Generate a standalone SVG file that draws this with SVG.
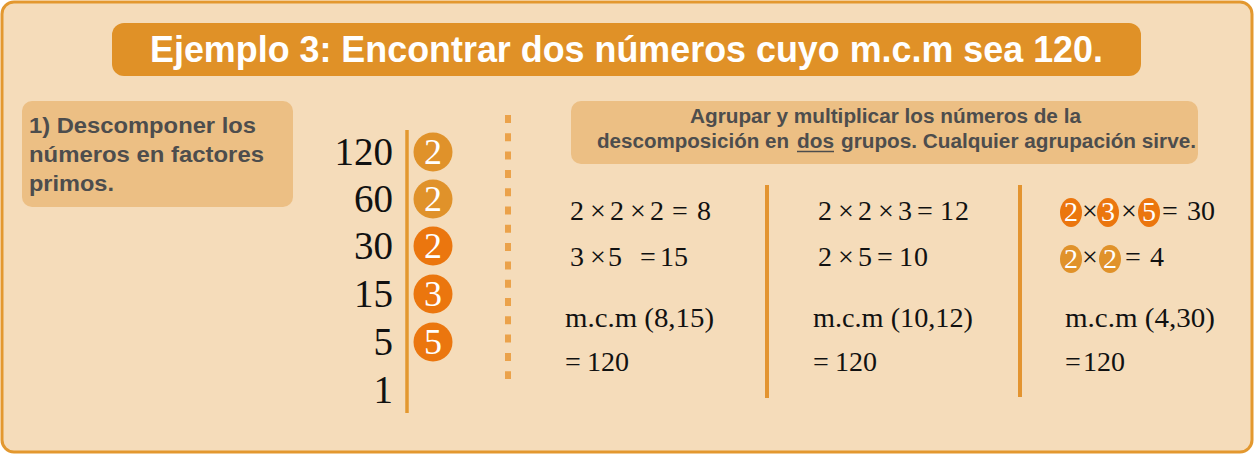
<svg xmlns="http://www.w3.org/2000/svg" width="1254" height="455" viewBox="0 0 1254 455">
<style>
.hd{font-family:"Liberation Sans",Arial,sans-serif;font-weight:bold;fill:#4D4D4D}
.m{font-family:"Liberation Serif","Times New Roman",serif;fill:#111}
.w{font-family:"Liberation Serif","Times New Roman",serif;fill:#fff;text-anchor:middle}
.sep{stroke:#E39430;stroke-width:4}
.c1{fill:#E0922A}
.c2{fill:#EB760E}
</style>
<g id="frame">
<rect x="2" y="2" width="1250" height="450" rx="12" fill="#F5DCBA" stroke="#E3982F" stroke-width="3"/>
</g>
<g id="title">
<rect x="112" y="23" width="1029" height="53" rx="12" fill="#E09127"/>
<text x="150" y="62" font-family="Liberation Sans,Arial,sans-serif" font-weight="bold" font-size="36" fill="#fff" textLength="953" lengthAdjust="spacingAndGlyphs">Ejemplo 3: Encontrar dos números cuyo m.c.m sea 120.</text>
</g>
<g id="step1">
<rect x="22" y="101" width="271" height="106" rx="10" fill="#ECBF84"/>
<text class="hd" font-size="22" x="29" y="133" textLength="227" lengthAdjust="spacingAndGlyphs">1) Descomponer los</text>
<text class="hd" font-size="22" x="29" y="162" textLength="235" lengthAdjust="spacingAndGlyphs">números en factores</text>
<text class="hd" font-size="22" x="29" y="191" textLength="85" lengthAdjust="spacingAndGlyphs">primos.</text>
</g>
<g id="factorization">
<line x1="407" y1="130" x2="407" y2="413" stroke="#E3982F" stroke-width="3.5"/>
<g class="m" font-size="39" text-anchor="end">
<text x="393" y="165">120</text>
<text x="393" y="212">60</text>
<text x="393" y="259">30</text>
<text x="393" y="307">15</text>
<text x="393" y="355">5</text>
<text x="393" y="403">1</text>
</g>
<circle class="c1" cx="433" cy="152" r="19.5"/>
<circle class="c1" cx="433" cy="199" r="19.5"/>
<circle class="c2" cx="433" cy="246" r="19.5"/>
<circle class="c2" cx="433" cy="294" r="19.5"/>
<circle class="c2" cx="433" cy="342" r="19.5"/>
<g class="w" font-size="36">
<text x="433" y="164">2</text>
<text x="433" y="211">2</text>
<text x="433" y="258">2</text>
<text x="433" y="306">3</text>
<text x="433" y="354">5</text>
</g>
</g>
<g id="connectors">
<line x1="508" y1="115" x2="508" y2="379" stroke="#EBA24A" stroke-width="6" stroke-dasharray="8 10.3"/>
<line class="sep" x1="767" y1="185" x2="767" y2="398"/>
<line class="sep" x1="1020" y1="185" x2="1020" y2="397"/>
</g>
<g id="instructions">
<rect x="571" y="101" width="627" height="63" rx="10" fill="#ECBF84"/>
<text class="hd" font-size="20" x="690" y="123" textLength="391" lengthAdjust="spacingAndGlyphs">Agrupar y multiplicar los números de la</text>
<text class="hd" font-size="20" x="597" y="148" textLength="192" lengthAdjust="spacingAndGlyphs">descomposición en</text>
<text class="hd" font-size="20" x="797" y="148" textLength="37" lengthAdjust="spacingAndGlyphs">dos</text>
<line x1="797" y1="151.5" x2="834" y2="151.5" stroke="#4D4D4D" stroke-width="1.5"/>
<text class="hd" font-size="20" x="841" y="148" textLength="355" lengthAdjust="spacingAndGlyphs">grupos. Cualquier agrupación sirve.</text>
</g>
<g id="group1" class="m" font-size="28">
<text x="570 590 610 630 650 672 697" y="220">2×2×2=8</text>
<text x="570 590 608 640 660 674" y="266">3×5=15</text>
<text x="565" y="327" textLength="149" lengthAdjust="spacingAndGlyphs">m.c.m (8,15)</text>
<text x="565 587 601 615" y="371">=120</text>
</g>
<g id="group2" class="m" font-size="28">
<text x="818 838 858 878 898 917 940 955" y="220">2×2×3=12</text>
<text x="818 838 858 877 899 914" y="266">2×5=10</text>
<text x="813" y="327" textLength="160" lengthAdjust="spacingAndGlyphs">m.c.m (10,12)</text>
<text x="813 835 849 863" y="371">=120</text>
</g>
<g id="group3">
<ellipse class="c2" cx="1071" cy="212.5" rx="11" ry="14.5"/>
<ellipse class="c2" cx="1108" cy="212.5" rx="11" ry="14.5"/>
<ellipse class="c2" cx="1149" cy="212.5" rx="11" ry="14.5"/>
<ellipse class="c1" cx="1071" cy="259" rx="11" ry="14"/>
<ellipse class="c1" cx="1110" cy="259" rx="11" ry="14"/>
<g class="w" font-size="28">
<text x="1071" y="221">2</text>
<text x="1108" y="221">3</text>
<text x="1149" y="221">5</text>
<text x="1071" y="268">2</text>
<text x="1110" y="268">2</text>
</g>
<g class="m" font-size="28">
<text x="1090" y="220" text-anchor="middle">×</text>
<text x="1129" y="220" text-anchor="middle">×</text>
<text x="1162 1187 1201" y="220">=30</text>
<text x="1090" y="266" text-anchor="middle">×</text>
<text x="1125 1150" y="266">=4</text>
<text x="1065" y="327" textLength="150" lengthAdjust="spacingAndGlyphs">m.c.m (4,30)</text>
<text x="1065 1083 1097 1111" y="371">=120</text>
</g>
</g>
</svg>
